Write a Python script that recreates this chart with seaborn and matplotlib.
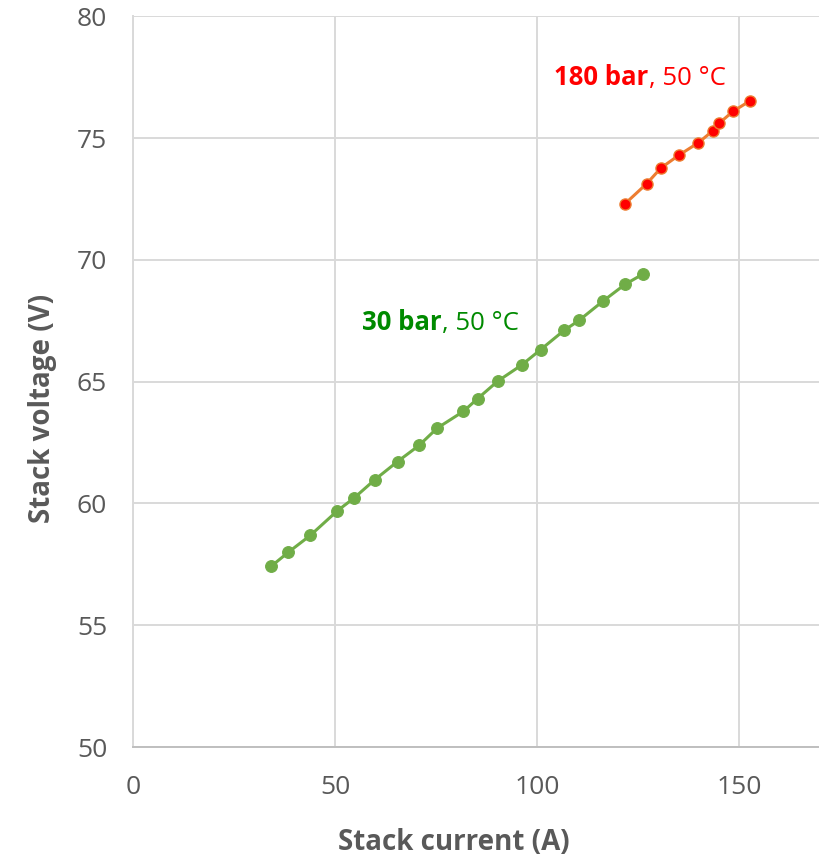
import matplotlib
matplotlib.use("Agg")
import matplotlib.pyplot as plt
import seaborn as sns
import pandas as pd

# Data
current_30bar = [34.1, 38.3, 43.8, 50.5, 54.6, 59.8, 65.4, 70.7, 75.2, 81.7,
                 85.2, 90.2, 96.1, 100.8, 106.6, 110.3, 116.3, 121.7, 126.1]
voltage_30bar = [57.42, 57.99, 58.69, 59.70, 60.22, 60.98, 61.72, 62.38, 63.09, 63.78,
                 64.30, 65.02, 65.68, 66.31, 67.10, 67.51, 68.31, 68.99, 69.41]
current_180bar = [121.7, 127.1, 130.6, 135.0, 139.9, 143.4, 145.1, 148.5, 152.6]
voltage_180bar = [72.30, 73.13, 73.77, 74.29, 74.81, 75.29, 75.62, 76.10, 76.52]

x_ticks = [0, 50, 100, 150]
y_ticks = [50, 55, 60, 65, 70, 75, 80]
x_label = "Stack current (A)"
y_label = "Stack voltage (V)"

sns.set_theme(style="white")
plt.rcParams['font.family'] = ['Open Sans', 'DejaVu Sans']

fig = plt.figure(figsize=(8.2, 8.65), dpi=100)
ax = fig.add_axes([0.1628, 0.1364, 0.8372, 0.8448])

df30 = pd.DataFrame({"I": current_30bar, "V": voltage_30bar})
df180 = pd.DataFrame({"I": current_180bar, "V": voltage_180bar})

sns.lineplot(data=df30, x="I", y="V", ax=ax, color="#70AD47", linewidth=2.2,
             marker="o", markersize=8.5, markerfacecolor="#70AD47",
             markeredgecolor="#70AD47", sort=False, zorder=3)
sns.lineplot(data=df180, x="I", y="V", ax=ax, color="#ED7D31", linewidth=2.2,
             marker="o", markersize=8, markerfacecolor="#FF0000",
             markeredgecolor="#ED7D31", markeredgewidth=1.0, sort=False, zorder=3)

ax.set_xlim(0, 170)
ax.set_ylim(50, 80)
ax.set_xticks(x_ticks)
ax.set_yticks(y_ticks)
ax.grid(True, color="#D9D9D9", linewidth=1.4)
ax.set_axisbelow(True)
for s in ["top", "right"]:
    ax.spines[s].set_visible(False)
ax.spines["left"].set_color("#D9D9D9")
ax.spines["left"].set_linewidth(1.4)
ax.spines["bottom"].set_color("#BFBFBF")
ax.spines["bottom"].set_linewidth(1.4)
ax.tick_params(axis="both", length=0, labelsize=19, labelcolor="#595959")
ax.tick_params(axis="x", pad=20)
ax.tick_params(axis="y", pad=19)

ax.set_xlabel(x_label, fontsize=20, fontweight="bold", color="#595959", va="center")
ax.set_ylabel(y_label, fontsize=20, fontweight="bold", color="#595959", va="center")
ax.xaxis.set_label_coords(0.467, -0.131)
ax.yaxis.set_label_coords(-0.133, 0.464)

t1 = ax.text(56.7, 67.13, "30 bar", fontsize=18.5, fontweight="bold", color="#008A00",
             ha="left", va="baseline")
ax.annotate(", 50 °C", xy=(1, 0), xycoords=t1, fontsize=18.5, color="#008A00",
            ha="left", va="bottom")
t2 = ax.text(104.2, 77.18, "180 bar", fontsize=18.5, fontweight="bold", color="#FF0000",
             ha="left", va="baseline")
ax.annotate(", 50 °C", xy=(1, 0), xycoords=t2, fontsize=18.5, color="#FF0000",
            ha="left", va="bottom")

fig.savefig("out.png", dpi=100)
